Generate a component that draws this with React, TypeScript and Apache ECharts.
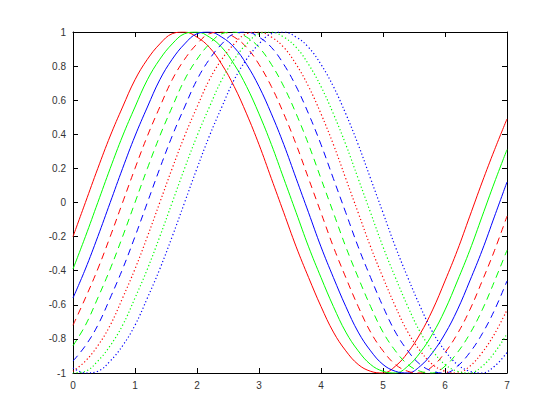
import React, { useEffect, useRef } from "react";
import * as echarts from "echarts";

// x positions (0 to 7 step 0.2)
const xValues: number[] = [
  0, 0.2, 0.4, 0.6, 0.8, 1, 1.2, 1.4, 1.6, 1.8, 2, 2.2, 2.4, 2.6, 2.8, 3, 3.2, 3.4,
  3.6, 3.8, 4, 4.2, 4.4, 4.6, 4.8, 5, 5.2, 5.4, 5.6, 5.8, 6, 6.2, 6.4, 6.6, 6.8, 7,
];

const redSolid: number[] = [
  -0.2, 0, 0.2, 0.39, 0.56, 0.72, 0.84, 0.93, 0.99, 1.0, 0.97, 0.91, 0.81, 0.68, 0.52, 0.34, 0.14, -0.06,
  -0.26, -0.44, -0.61, -0.76, -0.87, -0.95, -0.99, -1.0, -0.96, -0.88, -0.77, -0.63, -0.46, -0.28, -0.08, 0.12, 0.31, 0.49,
];
const greenSolid: number[] = [
  -0.39, -0.2, 0, 0.2, 0.39, 0.56, 0.72, 0.84, 0.93, 0.99, 1.0, 0.97, 0.91, 0.81, 0.68, 0.52, 0.34, 0.14,
  -0.06, -0.26, -0.44, -0.61, -0.76, -0.87, -0.95, -0.99, -1.0, -0.96, -0.88, -0.77, -0.63, -0.46, -0.28, -0.08, 0.12, 0.31,
];
const blueSolid: number[] = [
  -0.56, -0.39, -0.2, 0, 0.2, 0.39, 0.56, 0.72, 0.84, 0.93, 0.99, 1.0, 0.97, 0.91, 0.81, 0.68, 0.52, 0.34,
  0.14, -0.06, -0.26, -0.44, -0.61, -0.76, -0.87, -0.95, -0.99, -1.0, -0.96, -0.88, -0.77, -0.63, -0.46, -0.28, -0.08, 0.12,
];
const redDashed: number[] = [
  -0.72, -0.56, -0.39, -0.2, 0, 0.2, 0.39, 0.56, 0.72, 0.84, 0.93, 0.99, 1.0, 0.97, 0.91, 0.81, 0.68, 0.52,
  0.34, 0.14, -0.06, -0.26, -0.44, -0.61, -0.76, -0.87, -0.95, -0.99, -1.0, -0.96, -0.88, -0.77, -0.63, -0.46, -0.28, -0.08,
];
const greenDashed: number[] = [
  -0.84, -0.72, -0.56, -0.39, -0.2, 0, 0.2, 0.39, 0.56, 0.72, 0.84, 0.93, 0.99, 1.0, 0.97, 0.91, 0.81, 0.68,
  0.52, 0.34, 0.14, -0.06, -0.26, -0.44, -0.61, -0.76, -0.87, -0.95, -0.99, -1.0, -0.96, -0.88, -0.77, -0.63, -0.46, -0.28,
];
const blueDashed: number[] = [
  -0.93, -0.84, -0.72, -0.56, -0.39, -0.2, 0, 0.2, 0.39, 0.56, 0.72, 0.84, 0.93, 0.99, 1.0, 0.97, 0.91, 0.81,
  0.68, 0.52, 0.34, 0.14, -0.06, -0.26, -0.44, -0.61, -0.76, -0.87, -0.95, -0.99, -1.0, -0.96, -0.88, -0.77, -0.63, -0.46,
];
const redDotted: number[] = [
  -0.99, -0.93, -0.84, -0.72, -0.56, -0.39, -0.2, 0, 0.2, 0.39, 0.56, 0.72, 0.84, 0.93, 0.99, 1.0, 0.97, 0.91,
  0.81, 0.68, 0.52, 0.34, 0.14, -0.06, -0.26, -0.44, -0.61, -0.76, -0.87, -0.95, -0.99, -1.0, -0.96, -0.88, -0.77, -0.63,
];
const greenDotted: number[] = [
  -1.0, -0.99, -0.93, -0.84, -0.72, -0.56, -0.39, -0.2, 0, 0.2, 0.39, 0.56, 0.72, 0.84, 0.93, 0.99, 1.0, 0.97,
  0.91, 0.81, 0.68, 0.52, 0.34, 0.14, -0.06, -0.26, -0.44, -0.61, -0.76, -0.87, -0.95, -0.99, -1.0, -0.96, -0.88, -0.77,
];
const blueDotted: number[] = [
  -0.97, -1.0, -0.99, -0.93, -0.84, -0.72, -0.56, -0.39, -0.2, 0, 0.2, 0.39, 0.56, 0.72, 0.84, 0.93, 0.99, 1.0,
  0.97, 0.91, 0.81, 0.68, 0.52, 0.34, 0.14, -0.06, -0.26, -0.44, -0.61, -0.76, -0.87, -0.95, -0.99, -1.0, -0.96, -0.88,
];

const seriesList = [
  { name: "r-", data: redSolid, color: "#ff0000", dash: "solid" },
  { name: "g-", data: greenSolid, color: "#00ff00", dash: "solid" },
  { name: "b-", data: blueSolid, color: "#0000ff", dash: "solid" },
  { name: "r--", data: redDashed, color: "#ff0000", dash: "dashed" },
  { name: "g--", data: greenDashed, color: "#00ff00", dash: "dashed" },
  { name: "b--", data: blueDashed, color: "#0000ff", dash: "dashed" },
  { name: "r:", data: redDotted, color: "#ff0000", dash: "dotted" },
  { name: "g:", data: greenDotted, color: "#00ff00", dash: "dotted" },
  { name: "b:", data: blueDotted, color: "#0000ff", dash: "dotted" },
];

export default function App() {
  const ref = useRef<HTMLDivElement>(null);
  useEffect(() => {
    if (!ref.current) return;
    const chart = echarts.init(ref.current, null, { renderer: "svg" });
    const axisLine = { show: true, onZero: false, lineStyle: { color: "#000", width: 1 } };
    const tick = { show: true, inside: true, length: 5, lineStyle: { color: "#000" } };
    const label = { color: "#333", fontSize: 10, fontFamily: "Liberation Sans, Arial, sans-serif" };
    const fmt = (v: number) => String(Math.round(v * 10) / 10);
    chart.setOption({
      animation: false,
      backgroundColor: "#fff",
      grid: { left: 65, right: 45, top: 24, bottom: 39, containLabel: false },
      xAxis: [
        {
          type: "value", min: 0, max: 7, interval: 1, position: "bottom",
          axisLine, axisTick: tick, splitLine: { show: false },
          axisLabel: { ...label, margin: 7, formatter: fmt },
        },
        {
          type: "value", min: 0, max: 7, interval: 1, position: "top",
          axisLine, axisTick: tick, splitLine: { show: false },
          axisLabel: { show: false },
        },
      ],
      yAxis: [
        {
          type: "value", min: -1, max: 1, interval: 0.2, position: "left",
          axisLine, axisTick: tick, splitLine: { show: false },
          axisLabel: { ...label, margin: 7, formatter: fmt },
        },
        {
          type: "value", min: -1, max: 1, interval: 0.2, position: "right",
          axisLine, axisTick: tick, splitLine: { show: false },
          axisLabel: { show: false },
        },
      ],
      series: seriesList.map((s) => ({
        name: s.name,
        type: "line",
        xAxisIndex: 0,
        yAxisIndex: 0,
        data: xValues.map((x, i) => [x, s.data[i]]),
        showSymbol: false,
        symbol: "none",
        smooth: 0.4,
        clip: true,
        lineStyle: {
          color: s.color,
          width: s.dash === "dotted" ? 1.2 : 1,
          type: s.dash === "solid" ? "solid" : s.dash === "dashed" ? [7, 5] : [1.2, 2.4],
        },
      })),
    });
    return () => chart.dispose();
  }, []);
  return <div ref={ref} style={{ width: 544, height: 404 }} />;
}
